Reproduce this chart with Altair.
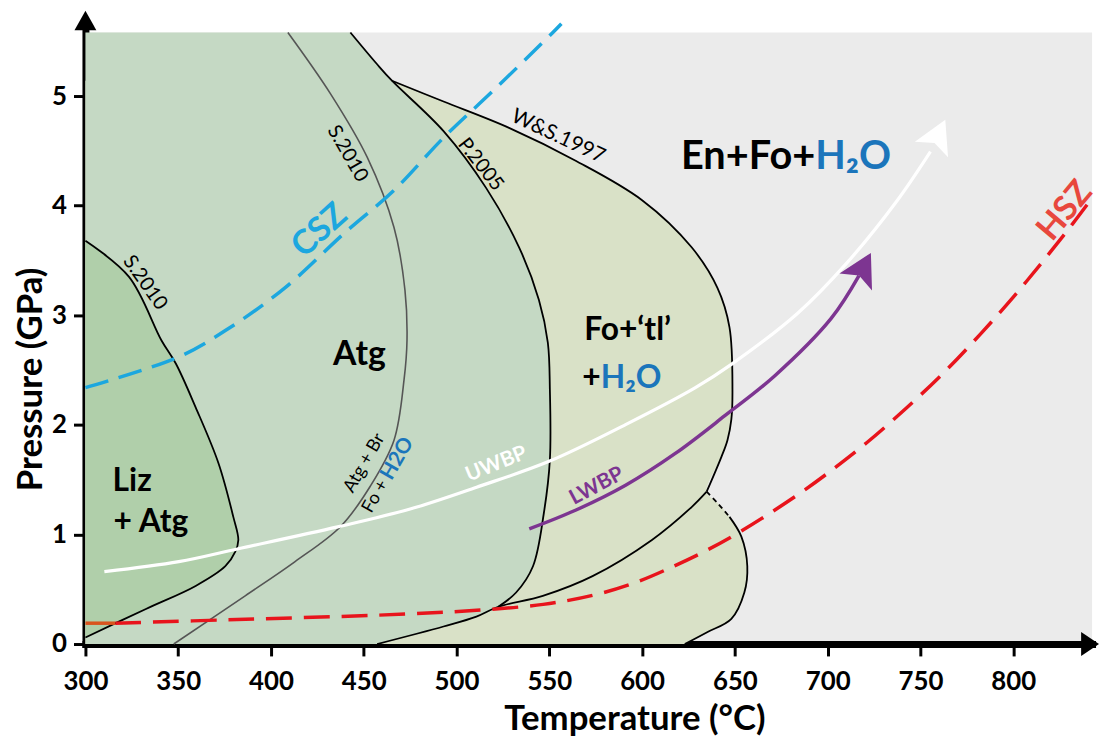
import math
import altair as alt
import pandas as pd

# ---------------- data ----------------
X_DOMAIN = [300, 842.5]
Y_DOMAIN = [0, 5.58]
X_TICKS = [300, 350, 400, 450, 500, 550, 600, 650, 700, 750, 800]
Y_TICKS = [0, 1, 2, 3, 4, 5]

# Liz + Atg field boundary (S.2010), from the top of the T = 300 edge downwards
liz_T = [300.0, 323.5, 341.0, 348.7, 359.4, 371.7, 379.7, 382.4, 380.7, 375.4, 359.4, 332.6, 300.0]
liz_P = [3.68, 3.35, 2.77, 2.56, 2.16, 1.65, 1.16, 0.95, 0.84, 0.71, 0.53, 0.32, 0.06]

# Atg + Br = Fo + H2O (S.2010)
s10_T = [409.1, 432.1, 451.9, 466.3, 472.2, 473.3, 471.7, 466.3, 453.5, 437.4, 412.8, 386.1, 347.6]
s10_P = [5.58, 5.02, 4.44, 3.80, 3.23, 2.77, 2.41, 1.86, 1.44, 1.07, 0.75, 0.44, 0.0]

# Atg-out (P.2005)
p05_T = [442.8, 457.2, 465.2, 493.0, 516.0, 533.7, 544.4, 549.2, 550.3, 550.3, 547.1, 541.2, 532.1, 522.5]
p05_P = [5.58, 5.29, 5.14, 4.68, 4.16, 3.62, 3.14, 2.75, 2.32, 1.68, 1.20, 0.71, 0.47, 0.34]

# low-pressure boundary
low_T = [457.2, 493.0, 510.7, 522.5, 546.5, 573.3, 605.3, 626.7, 634.8]
low_P = [0.0, 0.16, 0.25, 0.34, 0.44, 0.62, 0.95, 1.25, 1.39]

# outer boundary (W&S.1997), dashed part, low-P nose
ws_T = [465.2, 493.0, 528.3, 564.2, 600.0, 626.7, 640.6, 647.1, 648.7, 648.1, 646.0, 642.8, 634.8]
ws_P = [5.14, 4.95, 4.71, 4.41, 4.05, 3.62, 3.25, 2.89, 2.32, 2.05, 1.86, 1.71, 1.39]
dash_T = [634.8, 641.0, 647.1]
dash_P = [1.39, 1.28, 1.16]
nose_T = [647.1, 653.5, 656.7, 655.1, 648.1, 635.3, 623.0]
nose_P = [1.16, 0.98, 0.71, 0.47, 0.23, 0.11, 0.0]

# continuation of the field boundaries just beyond the frame (used only to close the fills)
liz_ext_T = [280.0, 280.0]
liz_ext_P = [3.96, -0.1]
atg_ext_T = [250.0, 436.0, 420.0, 250.0]
atg_ext_P = [6.2, 5.72, -0.2, -0.8]
fo_ext_T = [610.0, 250.0, 250.0]
fo_ext_P = [-0.12, -0.8, 5.14]

# geotherms
csz_T = [300.0, 350.3, 375.4, 407.5, 439.6, 466.3, 493.0, 519.8, 551.9, 556.5]
csz_P = [2.34, 2.62, 2.86, 3.25, 3.75, 4.14, 4.62, 5.05, 5.58, 5.66]
hsz_start_T = [300.0, 316.1]
hsz_start_P = [0.19, 0.19]
hsz_T = [316.1, 386.2, 457.3, 510.8, 546.7, 573.4, 596.5, 617.8, 635.5, 653.7, 682.1, 703.5,
         721.2, 742.6, 764.0, 782.2, 799.8, 817.5, 831.9, 842.5]
hsz_P = [0.190, 0.226, 0.263, 0.308, 0.362, 0.444, 0.562, 0.716, 0.861, 1.033, 1.341, 1.603,
         1.839, 2.156, 2.500, 2.826, 3.161, 3.524, 3.832, 4.070]

# slab paths (UWBP, LWBP) and their arrow tips
uw_T = [310.2, 350.3, 382.4, 435.9, 475.0, 510.8, 549.9, 591.1, 628.5, 648.3, 683.7, 710.4, 737.2, 755.4]
uw_P = [0.661, 0.752, 0.870, 1.069, 1.232, 1.431, 1.667, 2.002, 2.337, 2.554, 3.016, 3.478, 4.040, 4.493]
uw_tip = [763.4, 4.783]
lw_T = [539.2, 564.4, 591.1, 617.9, 644.6, 671.4, 701.9, 716.9]
lw_P = [1.051, 1.223, 1.449, 1.739, 2.083, 2.446, 2.971, 3.361]
lw_tip = [723.3, 3.569]

# text labels
LABEL_TEXT = ["Liz", "+ Atg", "Atg", "Fo+\u2018tl\u2019", "+", "H\u2082O", "En+Fo+", "H\u2082O",
              "S.2010", "S.2010", "P.2005", "W&S.1997", "Atg + Br", "Fo +", "H2O",
              "CSZ", "HSZ", "UWBP", "LWBP"]
LABEL_T = [325.2, 335.3, 447.7, 592.2, 577.7, 577.7, 693.3, 693.3,
           332.1, 441.3, 513.0, 554.7, 450.4, 462.1, 462.1,
           426.3, 828.0, 521.5, 575.6]
LABEL_P = [1.395, 1.024, 2.545, 2.77, 2.337, 2.337, 4.33, 4.33,
           3.297, 4.475, 4.375, 4.63, 1.65, 1.513, 1.513,
           3.77, 3.95, 1.64, 1.44]

# ---------------- styling ----------------
FONT = "Lato"
W, H = 1014, 616
SX = W / (X_DOMAIN[1] - X_DOMAIN[0])
SY = H / (Y_DOMAIN[1] - Y_DOMAIN[0])

xs = alt.Scale(domain=X_DOMAIN, nice=False, zero=False)
ys = alt.Scale(domain=Y_DOMAIN, nice=False, zero=False)
x_axis = alt.Axis(values=X_TICKS, title="Temperature (\u00b0C)", grid=False,
                  labelFont=FONT, labelFontSize=26, labelFontWeight="bold", labelColor="black",
                  labelPadding=13, labelFlush=False, labelOverlap=False,
                  tickColor="black", tickWidth=3, tickSize=12,
                  domainColor="black", domainWidth=7, domainCap="square",
                  titleFont=FONT, titleFontSize=35, titleFontWeight="bold", titleColor="black",
                  titleX=553, titleY=75, titleAlign="center", titleBaseline="middle")
y_axis = alt.Axis(values=Y_TICKS, title="Pressure (GPa)", grid=False,
                  labelFont=FONT, labelFontSize=26, labelFontWeight="bold", labelColor="black",
                  labelPadding=7, labelFlush=False, labelOverlap=False,
                  tickColor="black", tickWidth=3, tickSize=12,
                  domainColor="black", domainWidth=7, domainCap="square",
                  titleFont=FONT, titleFontSize=35, titleFontWeight="bold", titleColor="black",
                  titleX=-55, titleY=349, titleAngle=-90, titleAlign="center", titleBaseline="middle")
X = alt.X("T:Q", scale=xs, axis=x_axis)
Y = alt.Y("P:Q", scale=ys, axis=y_axis)


def frame(T, P):
    return pd.DataFrame({"T": T, "P": P, "i": list(range(len(T)))})


def region(T, P, color):
    # closed polygon drawn as a filled path, clipped to the plot frame
    return alt.Chart(frame(T, P)).mark_line(
        fill=color, stroke=color, strokeWidth=0.5, interpolate="catmull-rom", clip=True
    ).encode(x=X, y=Y, order="i:Q")


def line(T, P, color, width, dash=None):
    mk = dict(color=color, strokeWidth=width, interpolate="catmull-rom", strokeCap="butt")
    if dash:
        mk["strokeDash"] = dash
    return alt.Chart(frame(T, P)).mark_line(**mk).encode(x=X, y=Y, order="i:Q")


def label(k, **mk):
    df = pd.DataFrame({"T": [LABEL_T[k]], "P": [LABEL_P[k]], "s": [LABEL_TEXT[k]]})
    return alt.Chart(df).mark_text(font=FONT, **mk).encode(x=X, y=Y, text="s:N")


ARROW = "M0,0 L-0.56,1 L0,0.78 L0.56,1 Z"


def arrowhead(last_T, last_P, tip, color):
    ang = math.degrees(math.atan2((tip[0] - last_T) * SX, (tip[1] - last_P) * SY))
    df = pd.DataFrame({"T": [tip[0]], "P": [tip[1]]})
    return alt.Chart(df).mark_point(shape=ARROW, size=4356, angle=ang, filled=True,
                                    color=color, opacity=1, strokeWidth=0).encode(x=X, y=Y)


x0, x1 = X_DOMAIN
y0, y1 = Y_DOMAIN
# regions (painted back to front)
yellow_T = ws_T + dash_T[1:] + nose_T[1:] + fo_ext_T
yellow_P = ws_P + dash_P[1:] + nose_P[1:] + fo_ext_P
atg_T = atg_ext_T[:2] + p05_T + low_T[:3][::-1] + atg_ext_T[2:]
atg_P = atg_ext_P[:2] + p05_P + low_P[:3][::-1] + atg_ext_P[2:]
liz_fill_T = liz_ext_T[:1] + liz_T + liz_ext_T[1:]
liz_fill_P = liz_ext_P[:1] + liz_P + liz_ext_P[1:]

layers = [
    region(yellow_T, yellow_P, "#d9e1c7"),
    region(atg_T, atg_P, "#c5d9c4"),
    region(liz_fill_T, liz_fill_P, "#b0cfaa"),
    line(liz_T, liz_P, "black", 1.8),
    line(s10_T, s10_P, "#555555", 1.6),
    line(p05_T, p05_P, "black", 1.8),
    line(low_T, low_P, "black", 1.8),
    line(ws_T, ws_P, "black", 1.8),
    line(dash_T, dash_P, "black", 1.8, [5, 4]),
    line(nose_T, nose_P, "black", 1.8),
    line(csz_T, csz_P, "#1ca7df", 3.5, [24, 11]),
    line(hsz_start_T, hsz_start_P, "#d9541e", 3.5),
    line(hsz_T, hsz_P, "#e8141c", 3.5, [26, 12]),
    line(uw_T, uw_P, "white", 3.2),
    line(lw_T, lw_P, "#7d3591", 3.5),
    arrowhead(uw_T[-1], uw_P[-1], uw_tip, "white"),
    arrowhead(lw_T[-1], lw_P[-1], lw_tip, "#7d3591"),
    # field labels
    label(0, fontSize=32, fontWeight="bold", color="black", align="center", baseline="alphabetic"),
    label(1, fontSize=32, fontWeight="bold", color="black", align="center", baseline="alphabetic"),
    label(2, fontSize=34, fontWeight="bold", color="black", align="center", baseline="alphabetic"),
    label(3, fontSize=32, fontWeight="bold", color="black", align="center", baseline="alphabetic"),
    label(4, fontSize=32, fontWeight="bold", color="black", align="right", baseline="alphabetic"),
    label(5, fontSize=32, fontWeight="bold", color="#1b75bb", align="left", baseline="alphabetic"),
    label(6, fontSize=40, fontWeight="bold", color="black", align="right", baseline="alphabetic"),
    label(7, fontSize=40, fontWeight="bold", color="#1b75bb", align="left", baseline="alphabetic"),
    # curve labels
    label(8, fontSize=20, color="black", align="center", baseline="middle", angle=55),
    label(9, fontSize=20, color="black", align="center", baseline="middle", angle=60),
    label(10, fontSize=20, color="black", align="center", baseline="middle", angle=52),
    label(11, fontSize=21, color="black", align="center", baseline="middle", angle=25),
    label(12, fontSize=18, color="black", align="center", baseline="middle", angle=300),
    label(13, fontSize=18, color="black", align="right", baseline="middle", angle=300, dx=-4),
    label(14, fontSize=21, fontWeight="bold", color="#1b75bb", align="left", baseline="middle", angle=300),
    label(15, fontSize=34, fontWeight="bold", color="#1ca7df", align="center", baseline="middle", angle=318),
    label(16, fontSize=34, fontWeight="bold", color="#e8473d", align="center", baseline="middle", angle=310),
    label(17, fontSize=21, fontWeight="bold", color="white", align="center", baseline="middle", angle=338),
    label(18, fontSize=21, fontWeight="bold", color="#7d3591", align="center", baseline="middle", angle=332),
]

# axis arrowheads at the ends of the axes
x_arrow = alt.Chart(pd.DataFrame({"T": [x1], "P": [y0]})).mark_point(
    shape="M0,0 L-1.5,-1 L-1.5,1 Z", size=576, filled=True, color="black", opacity=1,
    strokeWidth=0, xOffset=7).encode(x=X, y=Y)
y_arrow = alt.Chart(pd.DataFrame({"T": [x0], "P": [y1]})).mark_point(
    shape="M0,0 L-1,1.8 L1,1.8 Z", size=484, filled=True, color="black", opacity=1,
    strokeWidth=0, yOffset=-22).encode(x=X, y=Y)
layers += [x_arrow, y_arrow]

chart = alt.layer(*layers).properties(
    width=W, height=H,
    autosize=alt.AutoSizeParams(type="none"),
    padding={"left": 78, "top": 22, "right": 9, "bottom": 94},
    background="white",
).configure_view(fill="#ebebeb", stroke=None)

chart.save("out.html", embed_options={"renderer": "svg", "actions": False})
